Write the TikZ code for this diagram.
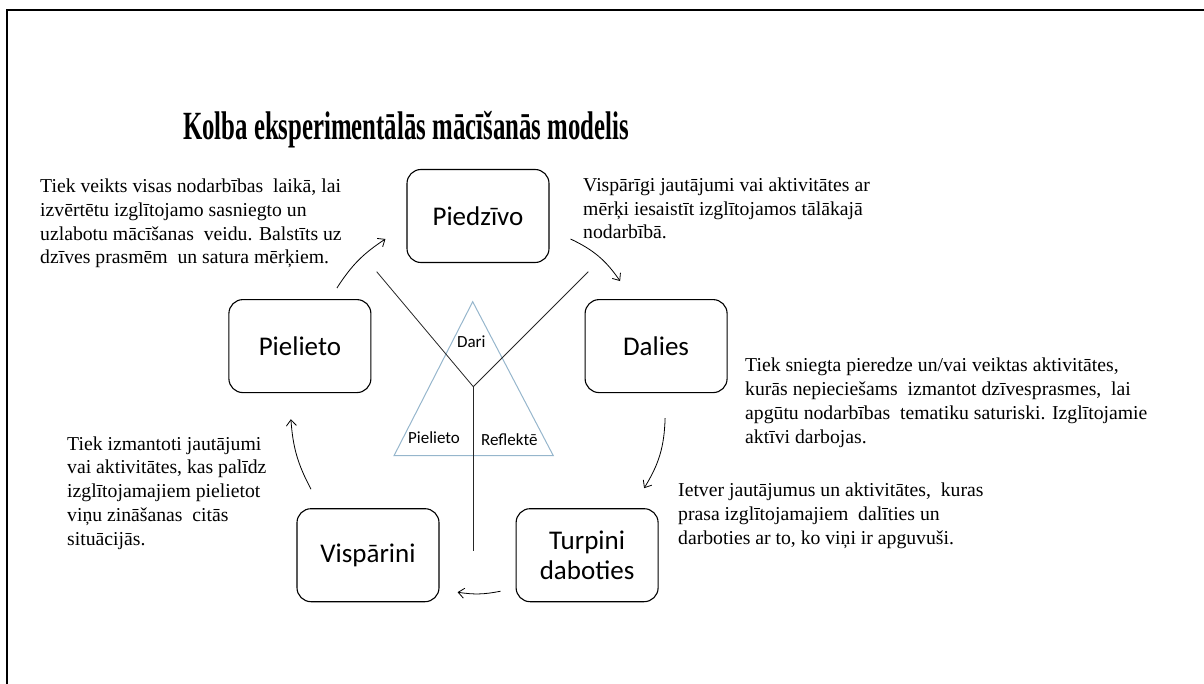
\documentclass[tikz,border=0pt]{standalone}
\usepackage{fontspec}
\usepackage{graphicx}
\setmainfont{Liberation Serif}
\newfontfamily\boxfont{Carlito}
\usetikzlibrary{positioning, calc, arrows.meta}

\definecolor{triblue}{RGB}{150,182,204}

\begin{document}
\begin{tikzpicture}[x=1pt, y=1pt,
    stage/.style={draw, line width=1.1pt, rounded corners=14pt, minimum width=142pt, minimum height=93pt, align=center, inner sep=0pt, font=\boxfont\fontsize{27}{30}\selectfont},
    note/.style={anchor=base west, align=left, inner sep=0pt, font=\fontsize{19.7}{23.7}\selectfont},
    cyc/.style={line width=0.8pt, -{Straight Barb[length=6pt, width=10pt]}},
    small/.style={inner sep=0pt, font=\boxfont\fontsize{17}{20}\selectfont}]
    \useasboundingbox (0,0) rectangle (1204,-684);

    % frame
    \draw[line width=2.5pt] (7,-690) -- (7,-10) -- (1210,-10);

    % title
    \node[anchor=base, inner sep=0pt, font=\bfseries\fontsize{40}{48}\selectfont] (title) at (406,-140)
        {\scalebox{0.62}[1]{Kolba eksperimentālās mācīšanās modelis}};

    % the five stages
    \node[stage] (piedzivo) at (478,-216) {Piedzīvo};
    \node[stage, below left=36pt and 35pt of piedzivo] (pielieto) {Pielieto};
    \node[stage, below right=36pt and 35pt of piedzivo] (dalies) {Dalies};
    \node[stage, below right=115pt and -75pt of pielieto] (visparini) {Vispārini};
    \node[stage, right=76pt of visparini] (turpini) {Turpini\\daboties};

    % arrows round the cycle
    \draw[cyc] ([shift={(37,11)}]pielieto.north) to[bend left=12] ([shift={(-21,-23)}]piedzivo.west);
    \draw[cyc] ([shift={(21,-23)}]piedzivo.east) to[bend left=15] ([shift={(-36,18)}]dalies.north);
    \draw[cyc] ([shift={(9,-25)}]dalies.south) to[bend left=15] ([shift={(57,20)}]turpini.north);
    \draw[cyc] ([shift={(-15,-36)}]turpini.west) to[bend left=10] ([shift={(18,-37)}]visparini.east);
    \draw[cyc] ([shift={(-57,19)}]visparini.north) to[bend left=12] ([shift={(-9,-26)}]pielieto.south);

    % triangle in the middle
    \coordinate (tapex) at (472.7,-301.7);
    \coordinate (tleft) at (394,-455.7);
    \coordinate (tright) at (553.3,-455.7);
    \draw[triblue, line width=1pt] (tapex) -- (tleft) -- (tright) -- cycle;
    \node[small] (dari) at (471.3,-341.7) {Dari};
    \node[small] (pielieto2) at (434,-438) {Pielieto};
    \node[small] (reflekte) at (509.3,-440) {Reflektē};

    % the Y shape
    \coordinate (yl) at (376.7,-271.7);
    \coordinate (yr) at (588.3,-271.7);
    \coordinate (ym) at (473.3,-386.7);
    \coordinate (yb) at (473.3,-551);
    \draw[black!85, line width=0.8pt] (yl) -- (ym) -- (yr);
    \draw[black!85, line width=0.8pt] (ym) -- (yb);

    % texts (placed at the baseline of their last line)
    \node[note] (t1) at (40,-264) {Tiek veikts visas nodarbības \ laikā, lai\\izvērtētu izglītojamo sasniegto un\\uzlabotu mācīšanas \ veidu. Balstīts uz\\dzīves prasmēm \ un satura mērķiem.};
    \node[note] (t2) at (583,-239) {Vispārīgi jautājumi vai aktivitātes ar\\mērķi iesaistīt izglītojamos tālākajā\\nodarbībā.};
    \node[note] (t3) at (745,-443) {Tiek sniegta pieredze un/vai veiktas aktivitātes,\\kurās nepieciešams \ izmantot dzīvesprasmes, \ lai\\apgūtu nodarbības \ tematiku saturiski. Izglītojamie\\aktīvi darbojas.};
    \node[note] (t4) at (67,-545) {Tiek izmantoti jautājumi\\vai aktivitātes, kas palīdz\\izglītojamajiem pielietot\\viņu zināšanas \ citās\\situācijās.};
    \node[note] (t5) at (678,-544) {Ietver jautājumus un aktivitātes, \ kuras\\prasa izglītojamajiem \ dalīties un\\darboties ar to, ko viņi ir apguvuši.};
\end{tikzpicture}
\end{document}
